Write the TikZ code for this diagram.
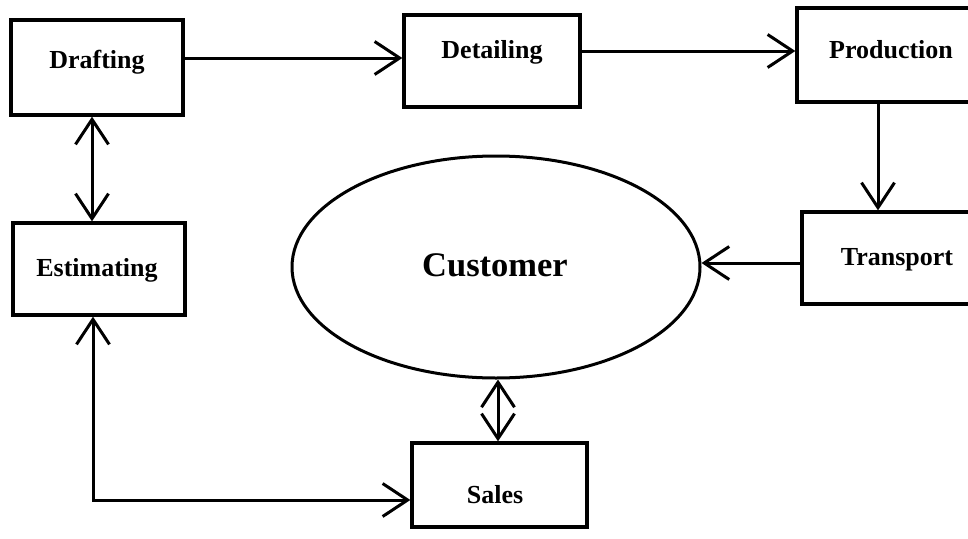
\documentclass[tikz,border=0pt]{standalone}
\usepackage{fontspec}
\setmainfont{Liberation Serif}
\usetikzlibrary{arrows.meta,shapes.geometric}

\begin{document}
\begin{tikzpicture}[x=1pt,y=-1pt,
  box/.style={draw,line width=3.3pt,rectangle,inner sep=0pt},
  lbl/.style={inner sep=0pt,font=\fontsize{26}{30}\selectfont\bfseries},
  tipV/.tip={Straight Barb[length=25pt,width=33pt]},
  link/.style={line width=3pt,-tipV},
  both/.style={line width=3pt,tipV-tipV}]
\useasboundingbox (0,0) rectangle (968,538);
\clip (0,0) rectangle (968,538);

% boxes
\node[box,minimum width=172pt,minimum height=95pt] (draft) at (97,67.5) {};
\node[box,minimum width=176pt,minimum height=92pt] (detail) at (492,61) {};
\node[box,minimum width=188pt,minimum height=94pt] (prod) at (891,55) {};
\node[box,minimum width=188pt,minimum height=92pt] (trans) at (896,258) {};
\node[box,minimum width=172pt,minimum height=92pt] (estim) at (99,269) {};
\node[box,minimum width=175pt,minimum height=84pt] (sales) at (499.5,485) {};
\node[draw,ellipse,line width=3pt,inner sep=0pt,minimum width=408pt,minimum height=222pt] (cust) at (496,267) {};

% labels
\node[lbl] (draftT) at (97,62) {Drafting};
\node[lbl] (detailT) at (492,52) {Detailing};
\node[lbl] (prodT) at (891,50) {Production};
\node[lbl] (transT) at (897,260) {Transport};
\node[lbl] (estimT) at (97,270) {Estimating};
\node[lbl] (salesT) at (495,495) {Sales};
\node[inner sep=0pt,font=\fontsize{34.5}{40}\selectfont\bfseries] (custT) at (495,265) {Customer};

% connectors
\draw[link] (draft.east |- 0,58) -- (detail.west |- 0,58);
\draw[link] (detail.east |- 0,51) -- (prod.west |- 0,51);
\draw[link] (prod.south -| 878,0) -- (trans.north -| 878,0);
\draw[link] (trans.west |- 0,263) -- (cust.east |- 0,263);
\draw[both] (draft.south -| 92,0) -- (estim.north -| 92,0);
\draw[both] (cust.south -| 498,0) -- (sales.north -| 498,0);
\coordinate (bend) at (93,500);
\draw[both] (estim.south -| bend) -- (bend) -- (sales.west |- bend);
\end{tikzpicture}
\end{document}
